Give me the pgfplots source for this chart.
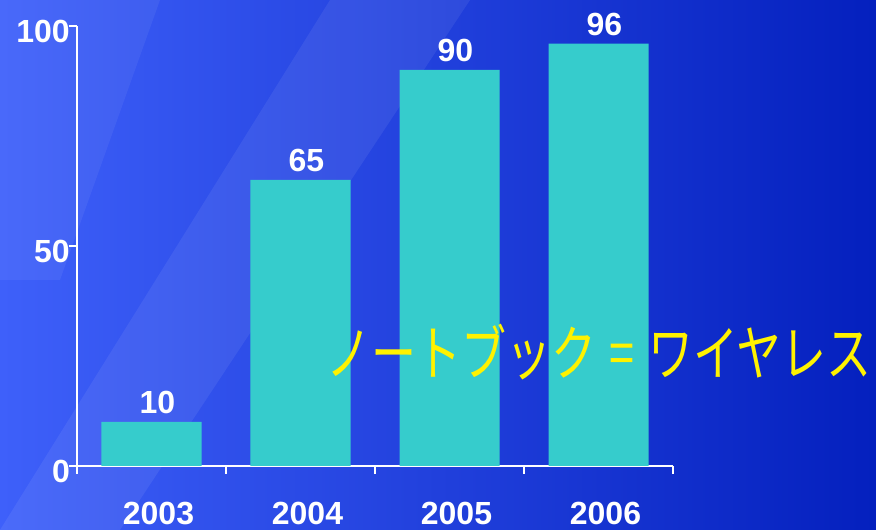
\documentclass[border=0pt]{standalone}
\usepackage{pgfplots}
\pgfplotsset{compat=1.18}
\usepackage{graphicx}
\usepackage{fontspec}
\setmainfont{Liberation Sans}
\newfontfamily\cjk{Noto Sans CJK JP}
\definecolor{barcyan}{RGB}{54,204,204}
\definecolor{bgL}{RGB}{62,96,250}
\definecolor{bgM}{RGB}{16,52,238}
\definecolor{bgR}{RGB}{4,32,190}
\begin{document}
\begin{tikzpicture}
\path[use as bounding box] (0pt,0pt) rectangle (876pt,530pt);
\shade[left color=bgL, middle color=bgM, right color=bgR] (0pt,0pt) rectangle (876pt,530pt);
\fill[white, opacity=0.07] (0pt,0pt) -- (120pt,0pt) -- (470pt,530pt) -- (330pt,530pt) -- cycle;
\fill[white, opacity=0.06] (0pt,250pt) -- (0pt,530pt) -- (160pt,530pt) -- (60pt,250pt) -- cycle;
\begin{axis}[
  at={(77pt,64pt)}, anchor=south west,
  scale only axis, width=596pt, height=440pt,
  xmin=-0.5, xmax=3.5, ymin=0, ymax=100,
  axis lines=left, axis line style={-, white, line width=1.5pt},
  ybar, bar width=100pt, bar shift=0pt,
  xtick={0,1,2,3}, xticklabels={2003,2004,2005,2006},
  minor xtick={-0.5,0.5,1.5,2.5,3.5},
  ytick={0,50,100},
  tick align=outside,
  major tick length=8pt, minor tick length=8pt,
  major x tick style={draw=none},
  tick style={white, line width=1.5pt},
  minor tick style={white, line width=1.5pt},
  /pgf/number format/assume math mode=true,
  ticklabel style={font=\fontsize{32}{36}\selectfont\bfseries, text=white, inner sep=0pt},
  xticklabel style={anchor=north, yshift=-28pt, xshift=7pt},
  yticklabel style={anchor=east, xshift=1pt, yshift=-5pt},
  nodes near coords,
  every node near coord/.append style={font=\fontsize{32}{36}\selectfont\bfseries, text=white, inner sep=0pt, anchor=south, yshift=8pt, xshift=6pt},
  clip=false,
]
\addplot[fill=barcyan, draw=none] coordinates {(0,10) (1,65) (2,90) (3,96)};
\end{axis}
\node[text=yellow, inner sep=0pt] at (599pt,178pt) {\scalebox{0.75}[1]{\cjk\fontsize{60}{64}\selectfont ノートブック\hspace{0.3em}=\hspace{0.3em}ワイヤレス}};
\end{tikzpicture}
\end{document}
